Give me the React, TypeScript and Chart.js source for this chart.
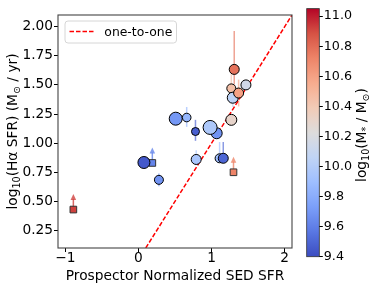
import React, { useEffect, useRef } from 'react';
import { Chart, registerables } from 'chart.js';

Chart.register(...registerables);

// ---- data ----
const circleSedSfr = [0.075, 0.28, 0.51, 0.66, 0.78, 0.79, 1.07, 0.98, 1.11, 1.16, 1.27, 1.27, 1.29, 1.37, 1.31, 1.47];
const circleHaSfr = [0.834, 0.685, 1.21, 1.22, 1.10, 0.86, 1.085, 1.135, 0.87, 0.87, 1.20, 1.47, 1.39, 1.43, 1.633, 1.50];
const circleLogMass = [9.45, 9.68, 9.70, 9.85, 9.47, 9.95, 9.68, 9.97, 9.90, 9.50, 10.30, 10.45, 10.05, 10.60, 10.78, 10.15];
const circleErrLow = [0, 0.055, 0, 0.08, 0.08, 0.05, 0, 0, 0.04, 0.04, 0, 0.13, 0.08, 0.115, 0.13, 0];
const circleErrHigh = [0, 0.055, 0, 0.09, 0.10, 0.08, 0, 0, 0.14, 0.14, 0, 0.13, 0.08, 0.115, 0.33, 0];
const circleRadius = [6, 4.5, 6.5, 4.3, 4, 5, 5.5, 7, 4.5, 5, 5.5, 4.5, 5.5, 5, 5, 5];

const limitSedSfr = [-0.89, 0.19, 1.30];
const limitHaSfr = [0.43, 0.83, 0.75];
const limitLogMass = [10.92, 9.62, 10.72];

const oneToOne = [0.1, 2.1];

const xTicks = [-1, 0, 1, 2];
const yTicks = [0.25, 0.5, 0.75, 1.0, 1.25, 1.5, 1.75, 2.0];
const massTicks = [9.4, 9.6, 9.8, 10.0, 10.2, 10.4, 10.6, 10.8, 11.0];
const MASS_MIN = 9.4;
const MASS_MAX = 11.05;

// ---- colormap (coolwarm) ----
const STOPS = ['#3b4cc0', '#5977e3', '#7b9ff9', '#9ebeff', '#c0d4f5', '#dddcdc', '#f2cbb7', '#f7ac8e', '#ee8468', '#d65244', '#b40426'];
const hexRgb = (h: string) => [1, 3, 5].map((i) => parseInt(h.slice(i, i + 2), 16));
function coolwarm(t: number, a = 1) {
  const tt = Math.max(0, Math.min(1, t));
  const p = tt * (STOPS.length - 1);
  const i = Math.min(Math.floor(p), STOPS.length - 2);
  const f = p - i;
  const c0 = hexRgb(STOPS[i]);
  const c1 = hexRgb(STOPS[i + 1]);
  const c = c0.map((v, k) => Math.round(v + (c1[k] - v) * f));
  return `rgba(${c[0]},${c[1]},${c[2]},${a})`;
}
const massColor = (m: number, a = 1) => coolwarm((m - MASS_MIN) / (MASS_MAX - MASS_MIN), a);

const FONT = '"DejaVu Sans", sans-serif';
const FS = 13.75;
Chart.defaults.font.family = FONT;
Chart.defaults.font.size = FS;
Chart.defaults.color = '#000';

type Seg = { t: string; sub?: boolean };
function drawRich(ctx: CanvasRenderingContext2D, segs: Seg[], cx: number, cy: number, size: number, rotate: boolean) {
  ctx.save();
  ctx.translate(cx, cy);
  if (rotate) ctx.rotate(-Math.PI / 2);
  const f = (s: Seg) => `${s.sub ? size * 0.7 : size}px ${FONT}`;
  let total = 0;
  const widths = segs.map((s) => {
    ctx.font = f(s);
    const w = ctx.measureText(s.t).width;
    total += w;
    return w;
  });
  let x = -total / 2;
  ctx.textAlign = 'left';
  ctx.textBaseline = 'alphabetic';
  ctx.fillStyle = '#000';
  segs.forEach((s, i) => {
    ctx.font = f(s);
    ctx.fillText(s.t, x, s.sub ? size * 0.22 : 0);
    x += widths[i];
  });
  ctx.restore();
}

const tickFmt = (v: number, d: number) => (v < 0 ? '\u2212' + Math.abs(v).toFixed(d) : v.toFixed(d));

export default function App() {
  const mainRef = useRef<HTMLCanvasElement>(null);
  const cbRef = useRef<HTMLCanvasElement>(null);

  useEffect(() => {
    const decor = {
      id: 'decor',
      beforeDatasetsDraw(chart: any) {
        const { ctx, scales } = chart;
        const xs = scales.x;
        const ys = scales.y;
        ctx.save();
        ctx.lineWidth = 1.5;
        circleSedSfr.forEach((x, i) => {
          if (circleErrLow[i] <= 0 && circleErrHigh[i] <= 0) return;
          const px = xs.getPixelForValue(x);
          ctx.strokeStyle = massColor(circleLogMass[i], 0.65);
          ctx.beginPath();
          ctx.moveTo(px, ys.getPixelForValue(circleHaSfr[i] + circleErrHigh[i]));
          ctx.lineTo(px, ys.getPixelForValue(circleHaSfr[i] - circleErrLow[i]));
          ctx.stroke();
        });
        limitSedSfr.forEach((x, i) => {
          const px = xs.getPixelForValue(x);
          const py = ys.getPixelForValue(limitHaSfr[i]);
          const tip = py - 15.5;
          const col = massColor(limitLogMass[i], 0.8);
          ctx.strokeStyle = col;
          ctx.fillStyle = col;
          ctx.beginPath();
          ctx.moveTo(px, py);
          ctx.lineTo(px, tip + 5);
          ctx.stroke();
          ctx.beginPath();
          ctx.moveTo(px, tip);
          ctx.lineTo(px - 2.8, tip + 6);
          ctx.lineTo(px + 2.8, tip + 6);
          ctx.closePath();
          ctx.fill();
        });
        ctx.restore();
      },
      afterDraw(chart: any) {
        const { ctx, chartArea: a } = chart;
        ctx.save();
        // frame
        ctx.strokeStyle = '#444';
        ctx.lineWidth = 1.1;
        ctx.strokeRect(a.left, a.top, a.right - a.left, a.bottom - a.top);
        // legend
        const lx = 65, ly = 21, lw = 111.5, lh = 22, r = 3;
        ctx.beginPath();
        ctx.moveTo(lx + r, ly);
        ctx.arcTo(lx + lw, ly, lx + lw, ly + lh, r);
        ctx.arcTo(lx + lw, ly + lh, lx, ly + lh, r);
        ctx.arcTo(lx, ly + lh, lx, ly, r);
        ctx.arcTo(lx, ly, lx + lw, ly, r);
        ctx.closePath();
        ctx.fillStyle = 'rgba(255,255,255,0.85)';
        ctx.fill();
        ctx.strokeStyle = '#d6d6d6';
        ctx.lineWidth = 1;
        ctx.stroke();
        ctx.strokeStyle = '#ff0000';
        ctx.lineWidth = 1.5;
        ctx.setLineDash([4.5, 2]);
        ctx.beginPath();
        ctx.moveTo(69.5, 31.5);
        ctx.lineTo(95, 31.5);
        ctx.stroke();
        ctx.setLineDash([]);
        ctx.fillStyle = '#000';
        ctx.font = `12.4px ${FONT}`;
        ctx.textAlign = 'left';
        ctx.textBaseline = 'alphabetic';
        ctx.fillText('one-to-one', 104.3, 35.6);
        // axis titles
        ctx.font = `${FS}px ${FONT}`;
        ctx.textAlign = 'center';
        ctx.fillText('Prospector Normalized SED SFR', (a.left + a.right) / 2, 280);
        ctx.restore();
        drawRich(
          ctx,
          [{ t: 'log' }, { t: '10', sub: true }, { t: '(H\u03b1 SFR) (M' }, { t: '\u2299', sub: true }, { t: ' / yr)' }],
          17,
          (a.top + a.bottom) / 2,
          FS,
          true,
        );
      },
    };

    const axisCommon = {
      type: 'linear' as const,
      grid: { display: true, drawOnChartArea: false, drawTicks: true, tickLength: 4, color: '#000', lineWidth: 1 },
      border: { display: false },
    };

    const main = new Chart(mainRef.current!, {
      type: 'scatter',
      data: {
        datasets: [
          {
            label: 'circles',
            order: 1,
            data: circleSedSfr.map((x, i) => ({ x, y: circleHaSfr[i] })),
            pointStyle: 'circle',
            pointRadius: circleRadius,
            pointBackgroundColor: circleLogMass.map((m) => massColor(m)),
            pointBorderColor: '#000',
            pointBorderWidth: 1,
          },
          {
            label: 'limits',
            order: 2,
            data: limitSedSfr.map((x, i) => ({ x, y: limitHaSfr[i] })),
            pointStyle: 'rect',
            pointRadius: 4.7,
            pointBackgroundColor: limitLogMass.map((m) => massColor(m)),
            pointBorderColor: '#333',
            pointBorderWidth: 1,
          },
          {
            type: 'line',
            label: 'one-to-one',
            order: 3,
            data: oneToOne.map((v) => ({ x: v, y: v })),
            borderColor: '#ff0000',
            borderWidth: 1.5,
            borderDash: [4.5, 2],
            pointRadius: 0,
            fill: false,
          } as any,
        ],
      },
      options: {
        animation: false,
        responsive: false,
        events: [],
        layout: { padding: { left: 0, top: 15, right: 8, bottom: 0 } },
        plugins: { legend: { display: false }, tooltip: { enabled: false } },
        scales: {
          x: {
            ...axisCommon,
            min: -1.1,
            max: 2.1,
            afterBuildTicks: (ax: any) => {
              ax.ticks = xTicks.map((v) => ({ value: v }));
            },
            afterFit: (ax: any) => {
              ax.height = 41;
            },
            ticks: { padding: -2, color: '#000', font: { size: FS }, callback: (v: any) => tickFmt(Number(v), 0) },
          },
          y: {
            ...axisCommon,
            min: 0.1,
            max: 2.1,
            afterBuildTicks: (ax: any) => {
              ax.ticks = yTicks.map((v) => ({ value: v }));
            },
            afterFit: (ax: any) => {
              ax.width = 58;
            },
            ticks: { padding: 1, color: '#000', font: { size: FS }, callback: (v: any) => tickFmt(Number(v), 2) },
          },
        },
      } as any,
      plugins: [decor],
    });

    const cbPlugin = {
      id: 'cb',
      beforeDraw(chart: any) {
        const { ctx, chartArea: a } = chart;
        const ys = chart.scales.y;
        const g = ctx.createLinearGradient(0, ys.getPixelForValue(MASS_MAX), 0, ys.getPixelForValue(MASS_MIN));
        for (let k = 0; k <= 40; k++) {
          const t = k / 40;
          g.addColorStop(t, coolwarm(1 - t));
        }
        ctx.save();
        ctx.fillStyle = g;
        ctx.fillRect(a.left, a.top, a.right - a.left, a.bottom - a.top);
        ctx.restore();
      },
      afterDraw(chart: any) {
        const { ctx, chartArea: a } = chart;
        ctx.save();
        ctx.strokeStyle = '#333';
        ctx.lineWidth = 0.8;
        ctx.strokeRect(a.left, a.top, a.right - a.left, a.bottom - a.top);
        ctx.restore();
        drawRich(
          ctx,
          [{ t: 'log' }, { t: '10', sub: true }, { t: '(M' }, { t: '*', sub: true }, { t: ' / M' }, { t: '\u2299', sub: true }, { t: ')' }],
          66,
          135,
          FS,
          true,
        );
      },
    };

    const cb = new Chart(cbRef.current!, {
      type: 'scatter',
      data: { datasets: [] },
      options: {
        animation: false,
        responsive: false,
        events: [],
        layout: { padding: { left: 6.7, top: 5, right: 0, bottom: 32.3 } },
        plugins: { legend: { display: false }, tooltip: { enabled: false } },
        scales: {
          x: { type: 'linear', display: false, min: 0, max: 1 },
          y: {
            type: 'linear',
            position: 'right',
            min: MASS_MIN,
            max: MASS_MAX,
            afterBuildTicks: (ax: any) => {
              ax.ticks = massTicks.map((v) => ({ value: v }));
            },
            afterFit: (ax: any) => {
              ax.width = 54.7;
            },
            grid: { display: true, drawOnChartArea: false, drawTicks: true, tickLength: 3.5, color: '#000' },
            border: { display: false },
            ticks: { padding: 1, color: '#000', font: { size: 12.7 }, callback: (v: any) => Number(v).toFixed(1) },
          },
        },
      } as any,
      plugins: [cbPlugin],
    });

    return () => {
      main.destroy();
      cb.destroy();
    };
  }, []);

  return (
    <div style={{ position: 'fixed', left: 0, top: 0, width: 374, height: 289, background: '#fff' }}>
      <canvas ref={mainRef} width={300} height={289} style={{ position: 'absolute', left: 0, top: 0, width: 300, height: 289 }} />
      <canvas ref={cbRef} width={74} height={289} style={{ position: 'absolute', left: 300, top: 0, width: 74, height: 289 }} />
    </div>
  );
}
